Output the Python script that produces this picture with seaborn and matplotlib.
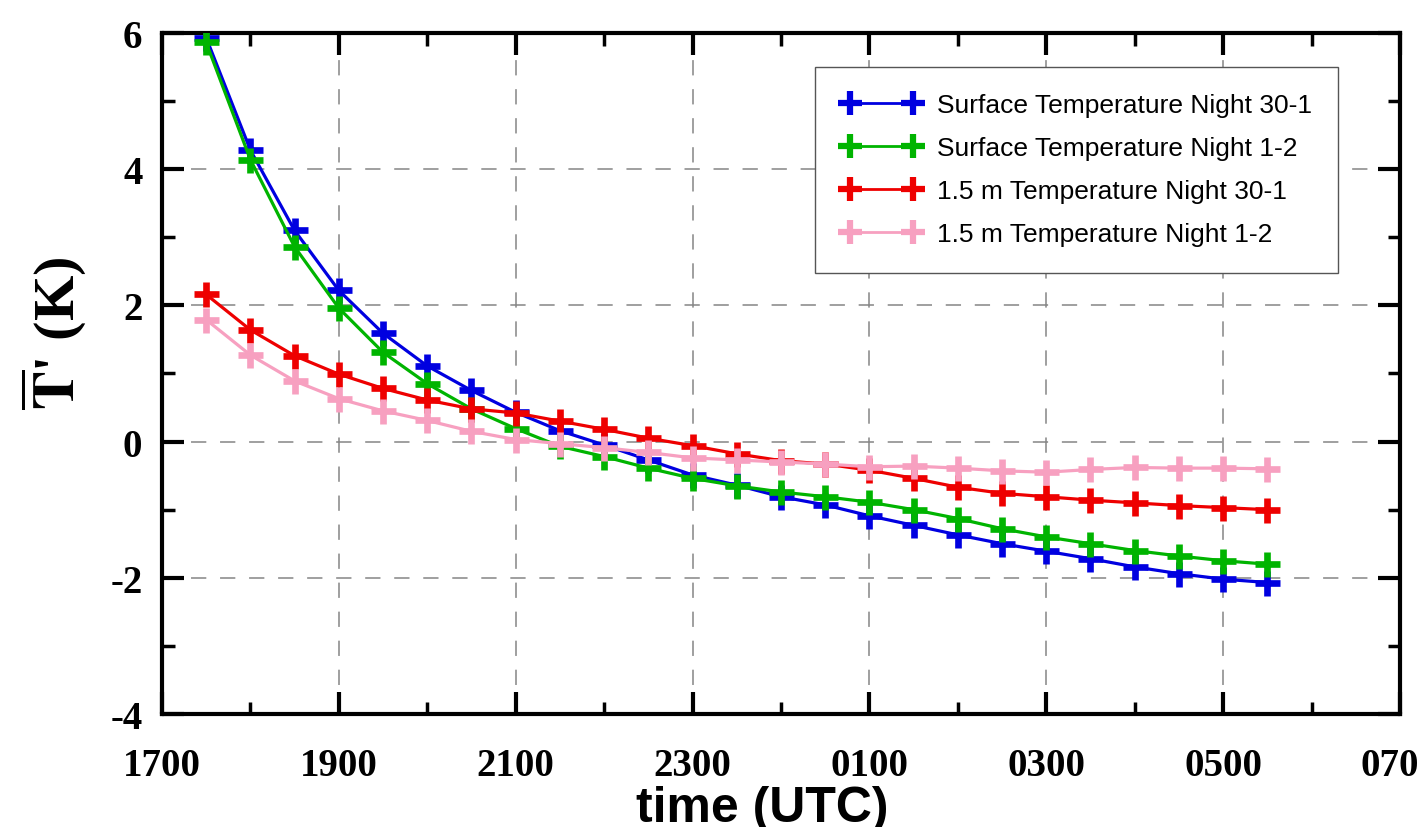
import numpy as np
import pandas as pd
import matplotlib
matplotlib.use("Agg")
import matplotlib.pyplot as plt
import seaborn as sns

# half-hourly times, hours since midnight of the first day (17:30 -> 05:30)
hours = [17.5, 18.0, 18.5, 19.0, 19.5, 20.0, 20.5, 21.0, 21.5, 22.0, 22.5, 23.0, 23.5,
         24.0, 24.5, 25.0, 25.5, 26.0, 26.5, 27.0, 27.5, 28.0, 28.5, 29.0, 29.5]

surf_30_1 = [5.93, 4.28, 3.10, 2.22, 1.59, 1.11, 0.75, 0.43, 0.16, -0.05, -0.27, -0.49, -0.64,
             -0.81, -0.93, -1.09, -1.23, -1.37, -1.50, -1.61, -1.72, -1.84, -1.94, -2.02, -2.07]
surf_1_2 = [5.86, 4.14, 2.86, 1.96, 1.31, 0.85, 0.48, 0.19, -0.07, -0.22, -0.39, -0.54, -0.65,
            -0.74, -0.81, -0.89, -1.00, -1.13, -1.28, -1.40, -1.50, -1.60, -1.68, -1.75, -1.80]
t15_30_1 = [2.16, 1.64, 1.26, 0.99, 0.78, 0.61, 0.48, 0.42, 0.30, 0.18, 0.05, -0.06, -0.18,
            -0.28, -0.33, -0.42, -0.54, -0.67, -0.76, -0.81, -0.86, -0.90, -0.94, -0.97, -1.00]
t15_1_2 = [1.79, 1.27, 0.89, 0.63, 0.45, 0.31, 0.15, 0.03, -0.03, -0.09, -0.16, -0.24, -0.27,
           -0.30, -0.33, -0.37, -0.36, -0.39, -0.43, -0.45, -0.41, -0.38, -0.39, -0.39, -0.40]

labels = ["Surface Temperature Night 30-1", "Surface Temperature Night 1-2",
          "1.5 m Temperature Night 30-1", "1.5 m Temperature Night 1-2"]
colors = ["#0000e0", "#00b400", "#ee0000", "#f7a0c0"]

xticks = [17, 19, 21, 23, 25, 27, 29, 31]
xticklabels = ["1700", "1900", "2100", "2300", "0100", "0300", "0500", "0700"]
yticks = [-4, -2, 0, 2, 4, 6]

sns.set_style("white")
plt.rcParams["font.family"] = ["Liberation Serif", "DejaVu Serif"]
plt.rcParams["mathtext.fontset"] = "stix"
plt.rcParams["axes.unicode_minus"] = False
plt.rcParams["text.color"] = "black"
plt.rcParams["axes.labelcolor"] = "black"
plt.rcParams["xtick.color"] = "black"
plt.rcParams["ytick.color"] = "black"

df = pd.DataFrame({"hour": hours * 4,
                   "value": surf_30_1 + surf_1_2 + t15_30_1 + t15_1_2,
                   "series": sum([[lab] * len(hours) for lab in labels], [])})

fig = plt.figure(figsize=(14.18, 8.28), dpi=100)
ax = fig.add_axes([0.1142, 0.1365, 0.8731, 0.8225])

for lab, col in zip(labels, colors):
    sub = df[df["series"] == lab]
    sns.lineplot(data=sub, x="hour", y="value", ax=ax, color=col, lw=2.3,
                 marker="+", markersize=18, markeredgewidth=4.8,
                 markeredgecolor=col, label=lab, zorder=3)

ax.set_xlim(17, 31)
ax.set_ylim(-4, 6)
ax.set_xticks(xticks)
ax.set_xticklabels(xticklabels)
ax.set_xticks(np.arange(18, 31, 2), minor=True)
ax.set_yticks(yticks)
ax.set_yticks([-3, -1, 1, 3, 5], minor=True)

ax.grid(True, which="major", color="#858585", lw=1.1, linestyle=(0, (10, 9)))
ax.tick_params(which="major", direction="in", length=16, width=3,
               top=True, right=True, bottom=True, left=True, labelsize=28)
ax.tick_params(which="minor", direction="in", length=9, width=2.5,
               top=True, right=True, bottom=True, left=True)
ax.tick_params(axis="x", which="major", pad=24)
ax.tick_params(axis="y", which="major", pad=14)
for lbl in ax.get_xticklabels() + ax.get_yticklabels():
    lbl.set_fontweight("bold")
for s in ax.spines.values():
    s.set_linewidth(3)
    s.set_color("black")

ax.set_ylabel(r"$\overline{\mathbf{T}}$' (K)", fontsize=42, fontweight="bold")
ax.yaxis.set_label_coords(-0.060, 0.56)
ax.set_xlabel("time (UTC)", fontsize=36, fontweight="bold",
              family=["Liberation Sans Narrow", "Liberation Sans", "DejaVu Sans"])
ax.xaxis.set_label_coords(0.485, -0.104)

leg = ax.legend(loc="upper right", bbox_to_anchor=(0.95, 0.95), borderaxespad=0,
                fancybox=False, edgecolor="#555555", framealpha=1,
                handlelength=3.0, numpoints=2, labelspacing=0.72, borderpad=1.0,
                handletextpad=0.6,
                prop={"family": ["Liberation Sans", "DejaVu Sans"], "size": 19})
leg.get_frame().set_linewidth(1.0)
for h, col in zip(leg.legend_handles, colors):
    h.set_markersize(17)
    h.set_markeredgewidth(4.5)
    h.set_markeredgecolor(col)
    h.set_linewidth(2)

fig.savefig("out.png", dpi=100)
